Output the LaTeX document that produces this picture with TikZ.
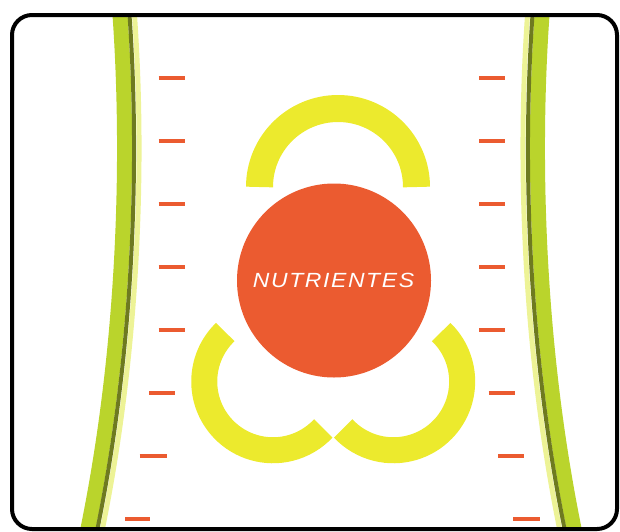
\documentclass[tikz,border=0pt]{standalone}
\usepackage{fontspec}
\newfontfamily\lblfont[LetterSpace=7]{Liberation Sans}
\definecolor{nutorange}{RGB}{235,91,48}
\definecolor{ringyellow}{RGB}{236,234,45}
\definecolor{bandgreen}{RGB}{186,212,44}
\definecolor{banddark}{RGB}{110,122,32}
\definecolor{bandpale}{RGB}{237,243,150}
\begin{document}
\begin{tikzpicture}[x=1pt,y=-1pt,
  frame/.style={draw=black,line width=4pt,rounded corners=20pt},
  greenband/.style={draw=bandgreen,line width=15pt},
  darkline/.style={draw=banddark,line width=4pt},
  paleline/.style={draw=bandpale,line width=5pt},
  ring/.style={draw=ringyellow,line width=26pt},
  tickmark/.style={draw=nutorange,line width=4pt},
  nutcircle/.style={circle,fill=nutorange,minimum size=194pt,inner sep=0pt},
  nutlabel/.style={text=white,inner sep=0pt,font=\lblfont\itshape\fontsize{20.5}{22}\selectfont}]
\useasboundingbox (0,0) rectangle (620,531);
% side bands, clipped to the frame interior
\begin{scope}
  \clip[rounded corners=20pt] (12,15) rectangle (617,529);
  \draw[paleline,xshift=5pt] (128.4,0) -- (129.5,15) .. controls (139,150) and (136,340) .. (97,531) -- (94,546);
  \draw[greenband,xshift=-9.5pt] (128.4,0) -- (129.5,15) .. controls (139,150) and (136,340) .. (97,531) -- (94,546);
  \draw[darkline] (128.4,0) -- (129.5,15) .. controls (139,150) and (136,340) .. (97,531) -- (94,546);
  \draw[paleline,xshift=-5pt] (533.6,0) -- (532.5,15) .. controls (523,150) and (526,340) .. (565,531) -- (568,546);
  \draw[greenband,xshift=9.5pt] (533.6,0) -- (532.5,15) .. controls (523,150) and (526,340) .. (565,531) -- (568,546);
  \draw[darkline] (533.6,0) -- (532.5,15) .. controls (523,150) and (526,340) .. (565,531) -- (568,546);
\end{scope}
% frame
\draw[frame] (12,15) rectangle (617,529);
% tick marks
\foreach \y in {77.7,140.7,203.7,266.7,329.7}{
  \draw[tickmark] (158.5,\y) -- (184.5,\y);
  \draw[tickmark] (479,\y) -- (505,\y);
}
\draw[tickmark] (149,392.7) -- (175,392.7);
\draw[tickmark] (139.5,455.7) -- (166.5,455.7);
\draw[tickmark] (125,518.7) -- (150,518.7);
\draw[tickmark] (488.5,392.7) -- (514.5,392.7);
\draw[tickmark] (498,455.7) -- (524,455.7);
\draw[tickmark] (513,518.7) -- (540,518.7);
% yellow arcs
\draw[ring,line width=27pt] ([shift={(0:78.5)}]338,187) arc[start angle=0,end angle=-180,radius=78.5];
\draw[ring] ([shift={(226:68.75)}]273,381.5) arc[start angle=226,end angle=43,radius=68.75];
\draw[ring] ([shift={(-46:68.75)}]393.4,381.5) arc[start angle=-46,end angle=137,radius=68.75];
% central circle
\node[nutcircle] (nut) at (334,280.5) {};
\node[nutlabel] (nutlbl) at (333.5,280) {\scalebox{1.12}[1]{NUTRIENTES}};
\end{tikzpicture}
\end{document}
